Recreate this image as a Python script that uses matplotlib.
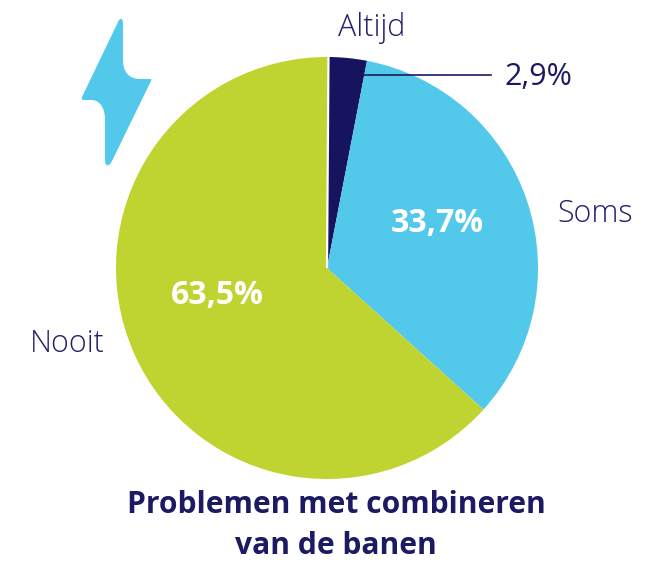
import numpy as np
import matplotlib
matplotlib.use("Agg")
import matplotlib.pyplot as plt
from matplotlib.patches import PathPatch
from matplotlib.path import Path

plt.rcParams['font.family'] = ['Open Sans', 'DejaVu Sans']

W, H = 662, 562

categories = ["Altijd", "Soms", "Nooit"]
values = [2.9, 33.7, 63.5]
value_labels = ["2,9%", "33,7%", "63,5%"]
colors = ["#16145f", "#52c8ea", "#bfd430"]
title_lines = ["Problemen met combineren", "van de banen"]

navy = "#1b1a63"
text_light = "#221f6b"

fig = plt.figure(figsize=(W / 100, H / 100), dpi=100)

# pie axes placed on the circle: centre (327, 268), radius 211
cx, cy, r = 327, 268, 211
pie_ax = fig.add_axes([(cx - r) / W, 1 - (cy + r) / H, 2 * r / W, 2 * r / H])
pie_ax.pie(values, colors=colors, startangle=89.5, counterclock=False, radius=1,
           wedgeprops=dict(linewidth=0))
pie_ax.plot([0, 0.007], [0, 1], color="white", lw=1.6, solid_capstyle="butt")
pie_ax.set_xlim(-1, 1)
pie_ax.set_ylim(-1, 1)
pie_ax.set_aspect("equal")

# overlay in pixels for the labels
ax = fig.add_axes([0, 0, 1, 1])
ax.set_xlim(0, W)
ax.set_ylim(H, 0)
ax.axis("off")
ax.patch.set_alpha(0)

ax.text(372, 28, categories[0], color=text_light, fontsize=22, fontweight="light", ha="center", va="center")
ax.text(595, 214, categories[1], color=text_light, fontsize=22, fontweight="light", ha="center", va="center")
ax.text(67, 344, categories[2], color=text_light, fontsize=22, fontweight="light", ha="center", va="center")

ax.text(538, 77, value_labels[0], color=navy, fontsize=22, ha="center", va="center")
ax.text(437.5, 224, value_labels[1], color="white", fontsize=23, fontweight="bold", ha="center", va="center")
ax.text(217, 295, value_labels[2], color="white", fontsize=23, fontweight="bold", ha="center", va="center")

ax.plot([364, 491], [75, 75], color=navy, lw=1.2)

# bliksem icoon
bolt = [
    (Path.MOVETO, (118, 22)),
    (Path.LINETO, (82, 97)),
    (Path.CURVE4, (81, 100)), (Path.CURVE4, (83, 100)), (Path.CURVE4, (85, 100)),
    (Path.LINETO, (91, 100)),
    (Path.CURVE4, (100, 100)), (Path.CURVE4, (105, 108)), (Path.CURVE4, (105, 120)),
    (Path.LINETO, (105, 160)),
    (Path.CURVE4, (105, 167)), (Path.CURVE4, (109, 167)), (Path.CURVE4, (112, 161)),
    (Path.LINETO, (151, 81)),
    (Path.CURVE4, (152, 79)), (Path.CURVE4, (151, 79)), (Path.CURVE4, (149, 79)),
    (Path.LINETO, (140, 79)),
    (Path.CURVE4, (129, 79)), (Path.CURVE4, (123, 72)), (Path.CURVE4, (123, 60)),
    (Path.LINETO, (123, 24)),
    (Path.CURVE4, (123, 18)), (Path.CURVE4, (120, 17)), (Path.CURVE4, (118, 22)),
    (Path.CLOSEPOLY, (118, 22)),
]
bolt_path = Path([p for _, p in bolt], [c for c, _ in bolt])
ax.add_patch(PathPatch(bolt_path, facecolor=colors[1], edgecolor="none"))

ax.text(336, 505, title_lines[0], color=navy, fontsize=21.6, fontweight="bold", ha="center", va="center")
ax.text(336, 546, title_lines[1], color=navy, fontsize=21.6, fontweight="bold", ha="center", va="center")

fig.savefig("out.png", dpi=100)
